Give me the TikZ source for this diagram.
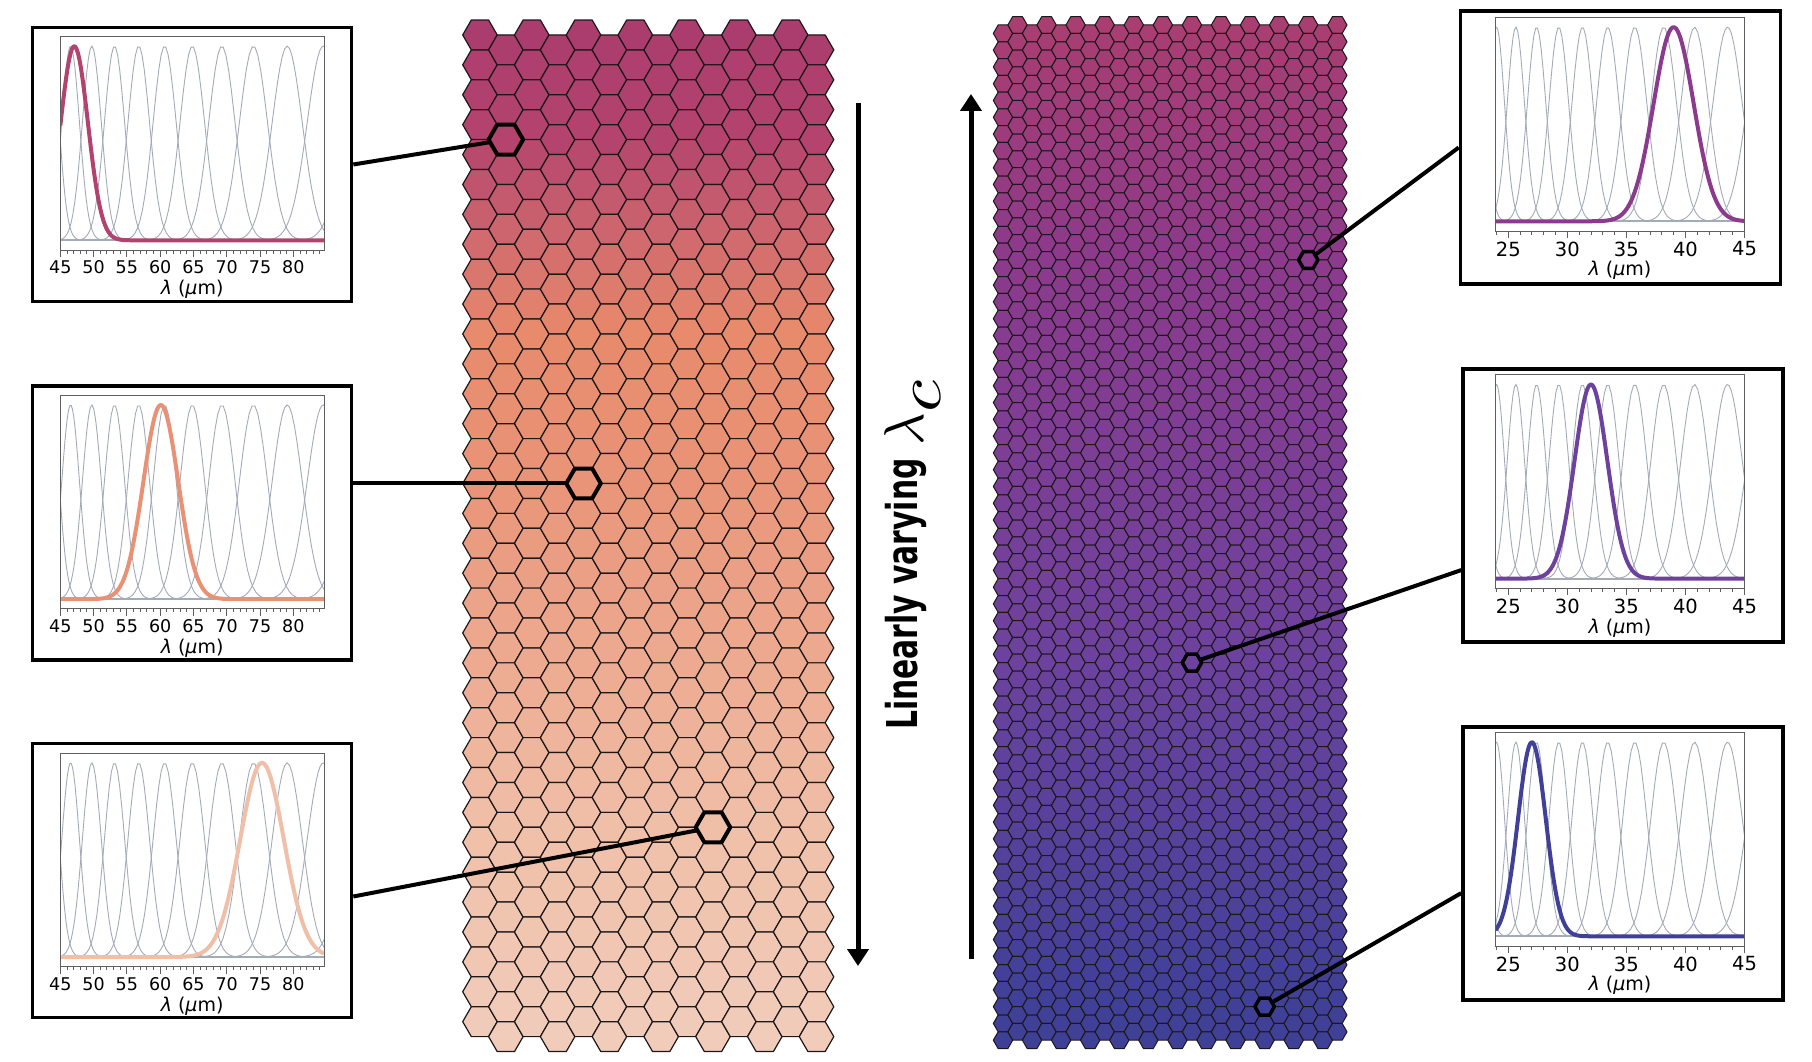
\documentclass[tikz,border=0pt]{standalone}
\usepackage{fontspec}
\usetikzlibrary{arrows.meta,calc}
\newfontfamily\dejavu{DejaVu Sans}

\definecolor{curvegray}{RGB}{163,170,184}
\definecolor{axgray}{RGB}{95,95,95}
\definecolor{hexline}{RGB}{28,24,26}
% left grid colour keys
\definecolor{LA}{RGB}{170,60,110}
\definecolor{LB}{RGB}{180,68,110}
\definecolor{LC}{RGB}{232,138,108}
\definecolor{LD}{RGB}{233,148,120}
\definecolor{LE}{RGB}{240,191,168}
\definecolor{LF}{RGB}{241,205,188}
% right grid colour keys
\definecolor{RA}{RGB}{170,62,112}
\definecolor{RB}{RGB}{140,58,140}
\definecolor{RC}{RGB}{108,66,158}
\definecolor{RD}{RGB}{64,64,152}
\definecolor{RE}{RGB}{62,64,148}
% curve colours
\definecolor{cLa}{RGB}{178,66,110}
\definecolor{cLb}{RGB}{233,145,116}
\definecolor{cLc}{RGB}{240,191,168}
\definecolor{cRa}{RGB}{139,58,142}
\definecolor{cRb}{RGB}{108,66,158}
\definecolor{cRc}{RGB}{64,64,152}

\newcommand\mixc[5]{\pgfmathtruncatemacro\pp{max(0,min(100,round((#1-#2)/(#3-#2)*100)))}\colorlet{hc}{#5!\pp!#4}}
\newcommand\setLcolor[1]{%
 \ifdim#1pt<140pt\relax \mixc{#1}{20}{140}{LA}{LB}%
 \else\ifdim#1pt<330pt\relax \mixc{#1}{140}{330}{LB}{LC}%
 \else\ifdim#1pt<483pt\relax \mixc{#1}{330}{483}{LC}{LD}%
 \else\ifdim#1pt<827pt\relax \mixc{#1}{483}{827}{LD}{LE}%
 \else \mixc{#1}{827}{1050}{LE}{LF}\fi\fi\fi\fi}
\newcommand\setRcolor[1]{%
 \ifdim#1pt<260pt\relax \mixc{#1}{17}{260}{RA}{RB}%
 \else\ifdim#1pt<662pt\relax \mixc{#1}{260}{662}{RB}{RC}%
 \else\ifdim#1pt<1007pt\relax \mixc{#1}{662}{1007}{RC}{RD}%
 \else \mixc{#1}{1007}{1050}{RD}{RE}\fi\fi\fi}

\newcommand\hexcell[4]{\filldraw[#4] (#1,#2) +(0:#3) -- +(60:#3) -- +(120:#3) -- +(180:#3) -- +(240:#3) -- +(300:#3) -- cycle;}

\tikzset{
 hexL/.style={draw=hexline, line width=1.2pt, line join=round},
 hexR/.style={draw=hexline, line width=1.0pt, line join=round},
 hexhl/.style={draw=black, line width=4pt, line join=round},
 boxL/.style={draw=black, line width=3.6pt, fill=white, inner sep=0pt, minimum width=319pt, minimum height=274pt},
 boxR/.style={draw=black, line width=3.6pt, fill=white, inner sep=0pt, minimum width=320pt, minimum height=273pt},
 graycurve/.style={draw=curvegray, line width=0.9pt},
 axframe/.style={draw=axgray, line width=1pt},
 tickline/.style={draw=axgray, line width=0.9pt},
 conn/.style={draw=black, line width=4pt},
 bigarrow/.style={draw=black, line width=5pt, -{Triangle[length=17pt,width=21pt]}},
}

% panel: #1 name, #2 box style, #3 centre x, #4 centre y, #5 curve colour
\newcommand\panel[5]{%
  \node[#2] (#1) at (#3,#4) {};
  \pgfmathsetmacro\sx{(\AXb-\AXa)/(\Lmax-\Lmin)}
  \pgfmathsetmacro\hgt{\AYb-\AYa}
  \pgfmathsetmacro\base{\AYb-0.04545*\hgt}
  \pgfmathsetmacro\amp{0.9091*\hgt}
  \begin{scope}
    \clip (\AXa,\AYa) rectangle (\AXb,\AYb);
    \draw[graycurve, line width=2pt] (\AXa,\base) -- (\AXb,\base);
    \foreach \k in {-2,...,21}{
      \pgfmathsetmacro\cc{24*1.0685^(\k)}
      \pgfmathsetmacro\ss{\cc/35}
      \pgfmathsetmacro\da{max(\Lmin-1,\cc-5*\ss)}
      \pgfmathsetmacro\db{min(\Lmax+1,\cc+5*\ss)}
      \ifdim\da pt<\db pt\relax
        \draw[graycurve] plot[domain=\da:\db, samples=50] ({\AXa+(\x-\Lmin)*\sx},{\base-\amp*exp(max(-12,((\x-\cc)^2)/(-2*\ss*\ss)))});
      \fi
    }
    \pgfmathsetmacro\ss{\Pc/23}
    \draw[draw=#5, line width=4pt, line join=round] plot[domain=\Lmin:\Lmax, samples=180] ({\AXa+(\x-\Lmin)*\sx},{\base-\amp*exp(max(-12,((\x-\Pc)^2)/(-2*\ss*\ss)))});
  \end{scope}
  \draw[axframe] (\AXa,\AYa) rectangle (\AXb,\AYb);
  \foreach \t in {\MinA,...,\MinB}{\draw[tickline] ({\AXa+(\t-\Lmin)*\sx},\AYb) -- ++(0,3.5);}
  \foreach \t in \Ticks{%
    \draw[tickline] ({\AXa+(\t-\Lmin)*\sx},\AYb) -- ++(0,7);
    \node[anchor=north, inner sep=0pt, font=\dejavu\fontsize{\Tfs}{\Tfs}\selectfont] at ({\AXa+(\t-\Lmin)*\sx},{\AYb+10.5}) {\t};
  }
  \node[inner sep=0pt, font=\dejavu\fontsize{19}{19}\selectfont] at ({(\AXa+\AXb)/2},{\AYb+39.5}) {{\itshape λ} ({\itshape μ}m)};
}

\begin{document}
\begin{tikzpicture}[x=1pt,y=-1pt]
\useasboundingbox (0,0) rectangle (1812,1062);
\fill[white] (0,0) rectangle (1812,1062);

% ---------- left hexagon grid ----------
\def\RL{17.26}
\foreach \c in {0,...,13}{
  \pgfmathsetmacro\cx{479.96+\c*25.89}
  \pgfmathsetmacro\cyo{34.95+mod(\c,2)*14.95}
  \foreach \r in {0,...,33}{
    \pgfmathsetmacro\cy{\cyo+\r*29.9}
    \setLcolor{\cy}
    \hexcell{\cx}{\cy}{\RL}{hexL,fill=hc}
  }
}
% ---------- right hexagon grid ----------
\def\RR{9.69}
\foreach \c in {0,...,23}{
  \pgfmathsetmacro\cx{1003+\c*14.535}
  \pgfmathsetmacro\cyo{33.39-mod(\c,2)*8.4}
  \foreach \r in {0,...,60}{
    \pgfmathsetmacro\cy{\cyo+\r*16.78}
    \setRcolor{\cy}
    \hexcell{\cx}{\cy}{\RR}{hexR,fill=hc}
  }
}

% ---------- panels ----------
\def\AXa{60.3}\def\AXb{324}\def\Lmin{45}\def\Lmax{84.61}\def\MinA{45}\def\MinB{84}\def\Ticks{45,50,...,80}\def\Tfs{17.5}
\def\AYa{36.5}\def\AYb{250}\def\Pc{47.1}
\panel{pL1}{boxL}{192}{164.5}{cLa}
\def\AYa{395.3}\def\AYb{608.8}\def\Pc{60.1}
\panel{pL2}{boxL}{192}{523}{cLb}
\def\AYa{753.2}\def\AYb{966.7}\def\Pc{75.3}
\panel{pL3}{boxL}{192}{880.5}{cLc}

\def\AXa{1495.5}\def\AXb{1744.5}\def\Lmin{23.92}\def\Lmax{45}\def\MinA{24}\def\MinB{45}\def\Ticks{25,30,...,45}\def\Tfs{19.5}
\def\AYa{17.5}\def\AYb{231}\def\Pc{39}
\panel{pR1}{boxR}{1620.5}{147.5}{cRa}
\def\AYa{374.8}\def\AYb{588.3}\def\Pc{32}
\panel{pR2}{boxR}{1623}{505.6}{cRb}
\def\AYa{732.5}\def\AYb{946}\def\Pc{27}
\panel{pR3}{boxR}{1623}{863.6}{cRc}

% ---------- arrows and label ----------
\coordinate (aLtop) at (858,103);
\coordinate (aLbot) at (858,966);
\coordinate (aRbot) at (971,959);
\coordinate (aRtop) at (971,94);
\draw[bigarrow] (aLtop) -- (aLbot);
\draw[bigarrow] (aRbot) -- (aRtop);
\node[rotate=90, anchor=base west, inner sep=0pt] (vlabel) at (917.5,730)
  {\scalebox{0.70}[1]{\dejavu\bfseries\fontsize{42.5}{42.5}\selectfont Linearly varying}};
\node[rotate=90, anchor=base west, inner sep=0pt] (vlam) at (923,446)
  {\scalebox{5.6}{$\lambda$}\kern1pt\raisebox{-17pt}{\scalebox{7.4}[6.2]{$c$}}};

% ---------- highlighted hexagons and connectors ----------
\coordinate (hL1) at (505.85,139.6);
\coordinate (hL2) at (583.52,483.45);
\coordinate (hL3) at (712.97,827.3);
\coordinate (hR1) at (1308.24,259.91);
\coordinate (hR2) at (1191.96,662.63);
\coordinate (hR3) at (1264.63,1006.63);

\draw[conn] (pL1.east) -- (hL1);
\draw[conn] (pL2.east |- hL2) -- (hL2);
\draw[conn] ($(pL3.east)+(0,16)$) -- (hL3);
\draw[conn] (pR1.west) -- (hR1);
\draw[conn] ($(pR2.west)+(0,64.5)$) -- (hR2);
\draw[conn] ($(pR3.west)+(0,29.5)$) -- (hR3);

\setLcolor{139.6}\hexcell{505.85}{139.6}{\RL}{hexhl,fill=hc}
\setLcolor{483.45}\hexcell{583.52}{483.45}{\RL}{hexhl,fill=hc}
\setLcolor{827.3}\hexcell{712.97}{827.3}{\RL}{hexhl,fill=hc}
\setRcolor{259.91}\hexcell{1308.24}{259.91}{\RR}{hexhl,line width=3.5pt,fill=hc}
\setRcolor{662.63}\hexcell{1191.96}{662.63}{\RR}{hexhl,line width=3.5pt,fill=hc}
\setRcolor{1006.63}\hexcell{1264.63}{1006.63}{\RR}{hexhl,line width=3.5pt,fill=hc}
\end{tikzpicture}
\end{document}
